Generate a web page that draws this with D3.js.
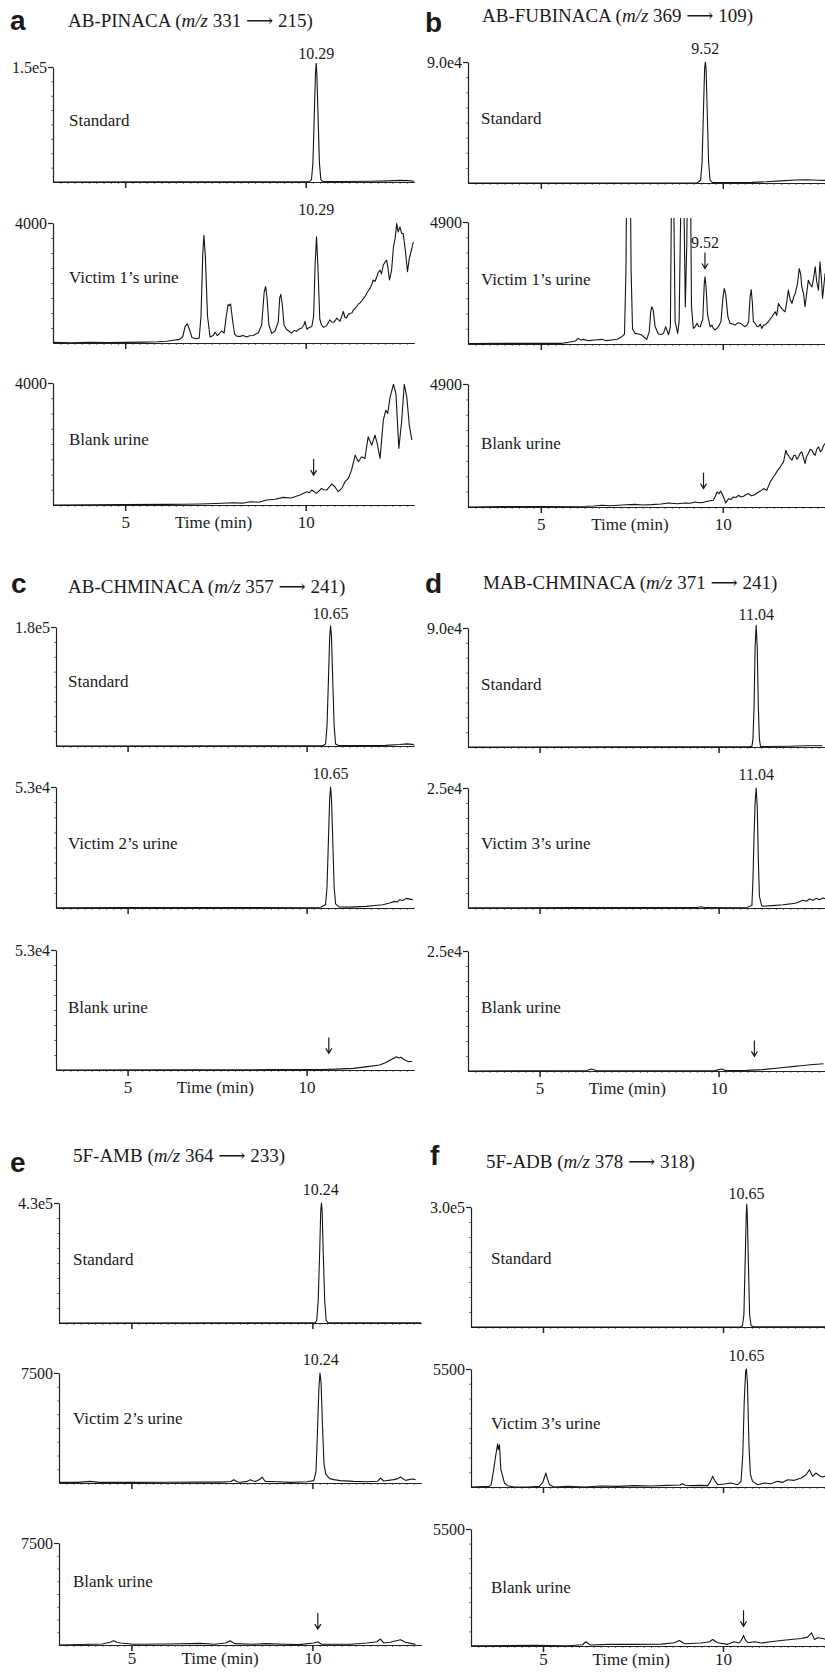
<!DOCTYPE html>
<html>
<head>
<meta charset="utf-8">
<script src="https://cdn.jsdelivr.net/npm/d3@7"></script>
<style>
body { margin: 0; background: #fff; }
svg { display: block; }
text { font-family: "Liberation Serif", "Times New Roman", "DejaVu Serif", serif; fill: #1a1a1a; }
.letter { font-family: "Liberation Sans", Arial, sans-serif; font-weight: bold; font-size: 28px; }
.axis path, .axis line { stroke: #222; }
</style>
</head>
<body>
<svg id="chart" width="825" height="1673"></svg>
<script>
// chromatogram traces, [time (min), counts]
const aStandard = [[3,0],[6,200],[9,300],[10.1,400],[10.16,3000],[10.2,25000],[10.24,90000],[10.27,140000],[10.29,155000],[10.31,140000],[10.34,90000],[10.38,25000],[10.42,3000],[10.48,600],[11,700],[11.8,900],[12.3,1500],[12.6,2100],[12.85,1800],[13,900]];
const aVictim = [[3.0,20],[3.5,10],[4.0,25],[4.5,15],[5.0,20],[5.5,30],[5.9,40],[6.15,60],[6.33,90],[6.5,120],[6.59,200],[6.66,550],[6.72,640],[6.78,450],[6.85,180],[6.95,140],[7.05,160],[7.1,900],[7.15,3000],[7.18,3590],[7.22,2900],[7.28,900],[7.35,200],[7.44,250],[7.49,360],[7.55,250],[7.6,300],[7.67,400],[7.74,330],[7.8,900],[7.85,1280],[7.88,1250],[7.92,1300],[7.97,800],[8.03,300],[8.09,230],[8.18,220],[8.27,250],[8.36,200],[8.45,240],[8.55,250],[8.62,300],[8.69,340],[8.78,600],[8.85,1700],[8.89,1880],[8.93,1500],[8.98,600],[9.06,320],[9.15,400],[9.24,700],[9.28,1500],[9.31,1620],[9.35,1300],[9.4,600],[9.47,450],[9.54,390],[9.61,330],[9.68,420],[9.75,390],[9.82,470],[9.89,500],[9.95,600],[9.98,720],[10.03,460],[10.1,520],[10.17,550],[10.22,900],[10.26,2600],[10.3,3540],[10.34,2500],[10.39,800],[10.44,600],[10.5,520],[10.58,580],[10.67,770],[10.72,700],[10.77,690],[10.82,750],[10.86,830],[10.95,720],[11.0,900],[11.04,1050],[11.09,850],[11.13,830],[11.18,950],[11.23,990],[11.28,1000],[11.32,1100],[11.37,1150],[11.41,1210],[11.46,1300],[11.5,1330],[11.55,1400],[11.6,1490],[11.65,1560],[11.69,1660],[11.74,1750],[11.78,1820],[11.83,1950],[11.87,2100],[11.92,2050],[11.97,2210],[12.01,2350],[12.06,2430],[12.1,2300],[12.15,2600],[12.2,2700],[12.24,2760],[12.28,2500],[12.32,2100],[12.38,2430],[12.43,3200],[12.48,3500],[12.52,3980],[12.56,3700],[12.61,3870],[12.66,3650],[12.7,3650],[12.75,3200],[12.82,2380],[12.87,2820],[12.94,3150],[12.98,3370]];
const aBlank = [[3,0],[4,10],[5,15],[6.15,20],[6.6,25],[7.07,33],[7.5,50],[8.0,76],[8.25,60],[8.46,109],[8.7,90],[8.92,164],[9.15,190],[9.38,251],[9.6,230],[9.84,327],[10.03,436],[10.1,400],[10.17,490],[10.3,381],[10.44,545],[10.5,500],[10.58,490],[10.72,687],[10.81,600],[10.9,436],[11.0,545],[11.09,763],[11.18,872],[11.27,1145],[11.37,1635],[11.46,1417],[11.55,1580],[11.64,1526],[11.73,2235],[11.83,1962],[11.92,2289],[11.98,2017],[12.06,1526],[12.15,2780],[12.22,3107],[12.27,2998],[12.34,3543],[12.43,3957],[12.5,3652],[12.58,1853],[12.66,2780],[12.73,3957],[12.8,3543],[12.87,2616],[12.94,2126]];

const bStandard = [[3,0],[9.3,200],[9.39,2000],[9.43,15000],[9.47,55000],[9.5,85000],[9.52,90000],[9.54,85000],[9.57,55000],[9.61,15000],[9.65,2000],[9.72,300],[10.8,500],[11.2,900],[11.6,1600],[12.0,2200],[12.3,2400],[12.6,2000],[12.9,1900]];
const bVictim = [[3,20],[4,27],[5,27],[5.58,27],[5.76,67],[5.95,120],[6.03,227],[6.1,160],[6.17,187],[6.31,134],[6.5,160],[6.68,187],[6.8,134],[6.95,160],[7.1,190],[7.23,294],[7.3,400],[7.34,3000],[7.37,9000],[7.45,9000],[7.48,3000],[7.52,600],[7.59,427],[7.68,400],[7.77,360],[7.91,187],[7.98,500],[8.02,1300],[8.05,1495],[8.09,1350],[8.14,700],[8.23,400],[8.3,380],[8.37,427],[8.43,694],[8.51,374],[8.56,700],[8.59,6000],[8.62,9000],[8.65,6000],[8.69,900],[8.76,427],[8.8,900],[8.86,7000],[8.89,9000],[8.92,7000],[8.97,1500],[9.01,4000],[9.05,9000],[9.1,9000],[9.14,1500],[9.19,627],[9.24,694],[9.29,828],[9.34,700],[9.38,694],[9.45,1000],[9.49,2400],[9.51,2697],[9.54,2300],[9.58,1200],[9.65,694],[9.7,760],[9.74,627],[9.79,561],[9.88,694],[9.95,900],[10.0,1800],[10.04,2229],[10.08,2000],[10.14,1100],[10.2,828],[10.27,800],[10.34,761],[10.41,850],[10.48,828],[10.55,760],[10.61,694],[10.67,780],[10.71,894],[10.75,1900],[10.78,2189],[10.81,1700],[10.84,900],[10.89,828],[10.94,700],[10.98,694],[11.03,800],[11.07,627],[11.12,760],[11.16,761],[11.25,894],[11.3,1000],[11.35,1095],[11.44,1295],[11.48,1150],[11.53,1629],[11.58,1500],[11.62,1428],[11.66,1350],[11.71,1295],[11.76,1700],[11.8,2163],[11.85,1800],[11.9,1629],[11.95,1900],[11.99,2029],[12.05,2400],[12.1,3030],[12.14,2800],[12.17,2296],[12.22,2000],[12.26,1495],[12.31,2100],[12.35,2563],[12.4,2400],[12.45,2296],[12.5,2700],[12.54,3097],[12.58,2500],[12.63,2163],[12.67,3297],[12.71,2600],[12.74,1829],[12.78,2400],[12.81,2830],[12.86,2697]];
const bBlank = [[3,0],[4,13],[5,20],[6.22,27],[6.45,40],[6.68,67],[6.9,50],[7.13,67],[7.35,90],[7.59,106],[7.8,80],[8.05,93],[8.3,120],[8.51,160],[8.75,130],[8.97,160],[9.1,150],[9.24,200],[9.35,170],[9.47,186],[9.61,239],[9.74,266],[9.8,450],[9.84,599],[9.9,532],[9.94,638],[9.97,560],[10.02,399],[10.08,160],[10.16,333],[10.22,300],[10.29,399],[10.36,380],[10.43,466],[10.5,400],[10.57,426],[10.64,500],[10.71,532],[10.78,450],[10.84,466],[10.91,520],[10.98,599],[11.05,650],[11.12,732],[11.17,700],[11.21,665],[11.26,850],[11.3,998],[11.35,1100],[11.39,1197],[11.44,1300],[11.48,1397],[11.53,1500],[11.58,1596],[11.62,1700],[11.67,1796],[11.73,2261],[11.77,2100],[11.8,2062],[11.85,1950],[11.9,1862],[11.95,2050],[11.99,2062],[12.04,1900],[12.08,1995],[12.13,2150],[12.17,2195],[12.21,2000],[12.26,1729],[12.3,2000],[12.35,2128],[12.4,2300],[12.45,2261],[12.5,2100],[12.54,2062],[12.58,2300],[12.63,2394],[12.68,2200],[12.72,2261],[12.77,2450],[12.81,2527],[12.86,2394]];

const cStandard = [[3,0],[10.45,300],[10.53,3000],[10.57,30000],[10.61,100000],[10.645,165000],[10.67,182000],[10.695,165000],[10.73,100000],[10.77,30000],[10.81,3000],[10.9,500],[11.6,700],[12.2,1000],[12.6,2200],[12.8,3200],[12.95,2500],[13,1500]];
const cVictim = [[3,100],[5,150],[8,200],[10.4,300],[10.53,1500],[10.57,9000],[10.61,30000],[10.645,48000],[10.67,53000],[10.695,48000],[10.73,30000],[10.77,9000],[10.81,1800],[10.9,500],[11.2,400],[11.67,726],[11.9,1100],[12.13,1450],[12.32,2180],[12.46,2900],[12.53,2600],[12.6,3630],[12.69,3300],[12.78,4200],[12.88,3900],[12.97,3600]];
const cBlank = [[3,0],[6,100],[9,150],[10.45,200],[10.8,400],[11.31,730],[11.7,1500],[12.04,2200],[12.2,3200],[12.34,4400],[12.51,5860],[12.57,5300],[12.63,5600],[12.74,4400],[12.85,3660],[12.95,3900]];

const dStandard = [[3,0],[10.85,300],[10.93,500],[10.96,6000],[10.99,30000],[11.02,75000],[11.05,92000],[11.08,75000],[11.11,30000],[11.14,6000],[11.17,500],[11.28,400],[12,600],[12.4,900],[12.9,1000]];
const dVictim = [[3,50],[6,80],[9.4,100],[9.52,250],[9.6,100],[10.8,150],[10.93,500],[10.96,6000],[10.99,15000],[11.02,22000],[11.05,25000],[11.08,21000],[11.11,10000],[11.14,2500],[11.2,500],[11.24,350],[11.5,500],[11.8,690],[12.0,850],[12.17,1040],[12.36,1600],[12.45,1400],[12.54,1870],[12.64,1600],[12.73,2010],[12.82,1730],[12.91,2080],[12.98,1950]];
const dBlank = [[3,0],[6.3,50],[6.45,415],[6.6,50],[9.9,80],[10.08,415],[10.2,80],[10.78,140],[11.23,280],[11.68,620],[12.12,970],[12.3,1100],[12.56,1310],[12.93,1520]];

const eStandard = [[3,0],[10.08,1000],[10.12,10000],[10.16,80000],[10.2,250000],[10.23,400000],[10.25,430000],[10.27,400000],[10.3,250000],[10.34,80000],[10.38,10000],[10.43,1500],[10.6,1000],[13,1000]];
const eVictim = [[3,40],[3.5,45],[3.87,110],[4.1,40],[5.06,45],[5.99,50],[6.91,60],[7.09,70],[7.46,60],[7.75,100],[7.83,227],[7.92,90],[8.01,50],[8.2,110],[8.29,227],[8.36,140],[8.43,110],[8.55,250],[8.61,408],[8.67,200],[8.7,110],[9.02,90],[9.39,45],[9.85,90],[10.04,160],[10.1,800],[10.14,3500],[10.18,6500],[10.21,7500],[10.24,6800],[10.28,3800],[10.32,1300],[10.37,600],[10.42,453],[10.48,300],[10.59,230],[10.77,160],[11.14,110],[11.51,90],[11.8,120],[11.88,340],[11.97,135],[12.25,230],[12.36,300],[12.43,408],[12.57,180],[12.75,270],[12.85,230]];
const eBlank = [[3,0],[4.2,70],[4.4,200],[4.51,316],[4.6,200],[4.7,150],[5.06,50],[5.99,70],[6.91,120],[7.28,50],[7.6,150],[7.73,316],[7.85,100],[8.34,50],[8.7,100],[9.25,50],[9.62,25],[10.04,150],[10.15,243],[10.25,50],[10.59,50],[11.05,50],[11.51,150],[11.78,240],[11.88,438],[11.97,150],[12.15,200],[12.43,389],[12.57,200],[12.75,100],[12.85,50]];

const fStandard = [[3,0],[10.5,300],[10.54,3000],[10.58,30000],[10.62,180000],[10.645,280000],[10.66,307000],[10.675,280000],[10.7,180000],[10.74,30000],[10.78,3000],[10.85,500],[13,500]];
const fVictim = [[3,0],[3.51,31],[3.56,108],[3.63,806],[3.69,1504],[3.72,1800],[3.74,2015],[3.76,1736],[3.79,1969],[3.83,806],[3.93,186],[4.02,62],[4.2,0],[4.57,0],[4.9,31],[4.99,200],[5.08,651],[5.12,400],[5.18,108],[5.31,0],[5.69,31],[6.15,0],[6.61,47],[7.07,31],[7.54,62],[8.0,47],[8.46,78],[8.8,90],[8.88,155],[8.95,80],[9.11,62],[9.39,78],[9.57,62],[9.65,250],[9.71,496],[9.77,300],[9.85,108],[10.04,140],[10.22,186],[10.41,108],[10.5,250],[10.55,1500],[10.59,4000],[10.63,5400],[10.65,5500],[10.68,4800],[10.72,2000],[10.76,600],[10.82,264],[10.96,108],[11.15,186],[11.33,155],[11.52,264],[11.66,217],[11.8,341],[11.98,310],[12.17,419],[12.31,574],[12.40,806],[12.49,496],[12.58,650],[12.68,527],[12.77,465],[12.86,527]];
const fBlank = [[3,15],[4.76,30],[5.69,15],[6.1,60],[6.19,200],[6.28,80],[6.33,45],[6.8,75],[7.54,75],[8.28,90],[8.65,150],[8.79,262],[8.93,108],[9.39,140],[9.63,200],[9.71,308],[9.85,154],[10.13,77],[10.31,200],[10.45,140],[10.52,300],[10.57,493],[10.62,300],[10.69,154],[10.87,200],[11.06,140],[11.33,200],[11.61,262],[11.89,308],[12.17,354],[12.35,416],[12.46,616],[12.54,308],[12.63,385],[12.77,354],[12.86,308]];

const panelKeys = ["a", "b", "c", "d", "e", "f"];
const compounds = ["AB-PINACA", "AB-FUBINACA", "AB-CHMINACA", "MAB-CHMINACA", "5F-AMB", "5F-ADB"];
const transitions = [[331, 215], [369, 109], [357, 241], [371, 241], [364, 233], [378, 318]];
const sampleNames = [
    ["Standard", "Victim 1\u2019s urine", "Blank urine"],
    ["Standard", "Victim 1\u2019s urine", "Blank urine"],
    ["Standard", "Victim 2\u2019s urine", "Blank urine"],
    ["Standard", "Victim 3\u2019s urine", "Blank urine"],
    ["Standard", "Victim 2\u2019s urine", "Blank urine"],
    ["Standard", "Victim 3\u2019s urine", "Blank urine"]
];
const yMax = [
    [150000, 4000, 4000], [90000, 4900, 4900], [180000, 53000, 53000],
    [90000, 25000, 25000], [430000, 7500, 7500], [300000, 5500, 5500]
];
const yMaxLabels = [
    ["1.5e5", "4000", "4000"], ["9.0e4", "4900", "4900"], ["1.8e5", "5.3e4", "5.3e4"],
    ["9.0e4", "2.5e4", "2.5e4"], ["4.3e5", "7500", "7500"], ["3.0e5", "5500", "5500"]
];
const peakLabels = ["10.29", "9.52", "10.65", "11.04", "10.24", "10.65"];
const peakTimes = [10.29, 9.52, 10.67, 11.05, 10.23, 10.65];
// [panel, row, time, counts at arrow tip]
const arrows = [[0, 2, 10.22, 980], [1, 1, 9.51, 3030], [1, 2, 9.47, 732], [2, 2, 10.62, 7320],
                [3, 2, 11.0, 3040], [4, 2, 10.15, 1169], [5, 2, 10.57, 924]];
const timeDomain = [3, 13];
const timeTicks = [5, 10];

const traces = [
    [aStandard, aVictim, aBlank], [bStandard, bVictim, bBlank], [cStandard, cVictim, cBlank],
    [dStandard, dVictim, dBlank], [eStandard, eVictim, eBlank], [fStandard, fVictim, fBlank]
];

// page geometry of each scanned panel
const layout = [
    {axisX: 53,  pxMin: 36.1, tops: [67, 223, 383],    bottoms: [182, 343, 505],    labelX: 69,  labelY: [120, 277, 439],
     titleX: 68,  titleY: 27,   letterX: 10,  letterY: 30,   timeDy: 23},
    {axisX: 468, pxMin: 36.4, tops: [62, 222, 384],    bottoms: [183, 344, 507],    labelX: 481, labelY: [118, 279, 443],
     titleX: 482, titleY: 22,   letterX: 425, letterY: 32,   timeDy: 23},
    {axisX: 56,  pxMin: 35.8, tops: [627, 787, 950],   bottoms: [746, 908, 1070],   labelX: 68,  labelY: [681, 843, 1007],
     titleX: 68,  titleY: 593,  letterX: 11,  letterY: 593,  timeDy: 23},
    {axisX: 468, pxMin: 35.8, tops: [628, 788, 951],   bottoms: [747, 908, 1071],   labelX: 481, labelY: [684, 843, 1007],
     titleX: 483, titleY: 589,  letterX: 425, letterY: 593,  timeDy: 23},
    {axisX: 59,  pxMin: 36.2, tops: [1203, 1373, 1543], bottoms: [1323, 1483, 1645], labelX: 73,  labelY: [1259, 1418, 1581],
     titleX: 73,  titleY: 1162, letterX: 10,  letterY: 1172, timeDy: 19},
    {axisX: 471, pxMin: 36.0, tops: [1207, 1369, 1529], bottoms: [1327, 1487, 1646], labelX: 491, labelY: [1258, 1423, 1587],
     titleX: 486, titleY: 1168, letterX: 430, letterY: 1165, timeDy: 19}
];

const W = 825;
const svg = d3.select("#chart");
const defs = svg.append("defs");

panelKeys.forEach((key, p) => {
    const L = layout[p];
    const g = svg.append("g").attr("class", "panel-" + key);
    const x = d3.scaleLinear()
        .domain(timeDomain)
        .range([L.axisX, L.axisX + (timeDomain[1] - timeDomain[0]) * L.pxMin]);

    g.append("text").attr("class", "letter").attr("x", L.letterX).attr("y", L.letterY).text(key);

    const title = g.append("text").attr("x", L.titleX).attr("y", L.titleY).attr("font-size", 19);
    title.append("tspan").text(compounds[p] + " (");
    title.append("tspan").attr("font-style", "italic").text("m/z");
    title.append("tspan").text(` ${transitions[p][0]} \u27F6 ${transitions[p][1]})`);

    for (let r = 0; r < 3; r++) {
        const top = L.tops[r], bot = L.bottoms[r];
        const y = d3.scaleLinear().domain([0, yMax[p][r]]).range([bot, top]);
        const row = g.append("g");

        const clipId = `clip-${key}${r}`;
        defs.append("clipPath").attr("id", clipId)
            .append("rect")
            .attr("x", L.axisX).attr("y", top - 4)
            .attr("width", W - L.axisX).attr("height", bot - top + 6);

        // x axis: fine ticks + major ticks
        const minor = d3.range(3.2, 13, 0.2);
        row.append("g").attr("class", "axis")
            .attr("transform", `translate(0,${bot})`)
            .call(d3.axisBottom(x).tickValues(minor).tickSize(2).tickSizeOuter(0).tickFormat(""))
            .call(a => a.selectAll("line").attr("stroke-width", 0.6));
        const xa = row.append("g").attr("class", "axis")
            .attr("transform", `translate(0,${bot})`)
            .call(d3.axisBottom(x).tickValues(timeTicks).tickSize(6).tickSizeOuter(0).tickPadding(L.timeDy - 18)
                .tickFormat(r === 2 ? d3.format("d") : ""))
            .attr("font-size", 17);
        xa.select(".domain").attr("stroke-width", 1.2);
        xa.selectAll("line").attr("stroke-width", 1.5);

        // y axis
        row.append("g").attr("class", "axis")
            .attr("transform", `translate(${L.axisX},0)`)
            .call(d3.axisLeft(y).tickValues(d3.range(1, 8).map(i => yMax[p][r] * i / 8))
                .tickSize(2).tickSizeOuter(0).tickFormat(""))
            .call(a => a.select(".domain").remove())
            .call(a => a.selectAll("line").attr("stroke-width", 0.6));
        row.append("g").attr("class", "axis")
            .attr("transform", `translate(${L.axisX},0)`)
            .call(d3.axisLeft(y).tickValues([yMax[p][r]]).tickSize(5).tickSizeOuter(0).tickPadding(1)
                .tickFormat(() => yMaxLabels[p][r]))
            .attr("font-size", 16)
            .call(a => a.selectAll("line, .domain").attr("stroke-width", 1.2));

        // trace
        row.append("path")
            .datum(traces[p][r])
            .attr("clip-path", `url(#${clipId})`)
            .attr("fill", "none")
            .attr("stroke", "#151515")
            .attr("stroke-width", 1.1)
            .attr("stroke-linejoin", "round")
            .attr("d", d3.line().x(d => x(d[0])).y(d => y(d[1])));

        // sample name
        row.append("text")
            .attr("x", L.labelX).attr("y", L.labelY[r]).attr("dy", "0.35em")
            .attr("font-size", 17)
            .text(sampleNames[p][r]);

        // arrows
        const rowArrows = arrows.filter(a => a[0] === p && a[1] === r);
        rowArrows.forEach(a => {
            const ax = x(a[2]), ay = y(a[3]);
            row.append("path")
                .attr("fill", "none").attr("stroke", "#1a1a1a").attr("stroke-width", 1.2)
                .attr("d", `M${ax},${ay - 16}L${ax},${ay}M${ax - 3},${ay - 5}L${ax},${ay}L${ax + 3},${ay - 5}`);
        });

        // retention time labels
        if (r < 2) {
            const arr = rowArrows[0];
            const ly = arr ? y(arr[3]) - 21 : top - 8;
            const lx = arr ? x(arr[2]) : x(peakTimes[p]);
            row.append("text")
                .attr("x", lx).attr("y", ly)
                .attr("text-anchor", "middle")
                .attr("font-size", 16)
                .text(peakLabels[p]);
        }

        if (r === 2) {
            row.append("text")
                .attr("x", x(7.45)).attr("y", bot + L.timeDy)
                .attr("text-anchor", "middle")
                .attr("font-size", 17)
                .text("Time (min)");
        }
    }
});
</script>
</body>
</html>
